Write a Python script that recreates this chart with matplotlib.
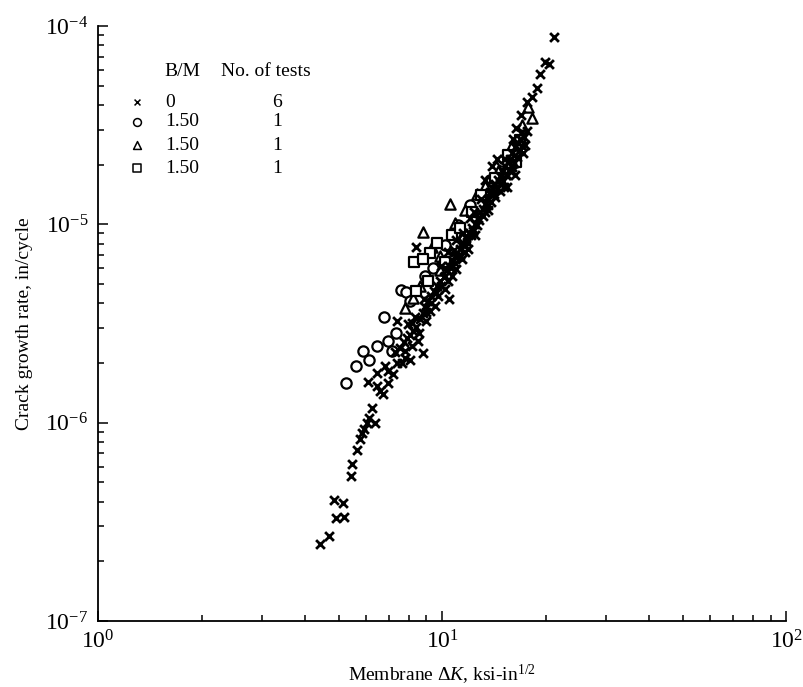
import matplotlib
matplotlib.use("Agg")
import matplotlib.pyplot as plt
from matplotlib.ticker import LogLocator, NullFormatter

plt.rcParams['font.family'] = 'Liberation Serif'
plt.rcParams['mathtext.fontset'] = 'custom'
plt.rcParams['mathtext.rm'] = 'Liberation Serif'
plt.rcParams['mathtext.it'] = 'Liberation Serif:italic'

# B/M = 0 (6 tests)
dk_x = [4.42, 4.69, 4.92, 5.19, 4.85, 5.15, 5.45, 5.48, 5.67, 5.78, 5.86, 5.93,
        6.05, 6.14, 6.26, 6.39, 6.10, 6.45, 6.61, 6.74, 6.97, 6.45, 6.83, 6.97,
        7.20, 7.40, 7.65, 7.81, 8.07, 7.40, 7.97, 8.78,
        7.30, 7.55, 7.76, 7.92, 8.07, 8.24, 8.41, 8.52, 8.18, 7.81, 8.63, 8.78,
        8.93, 8.35, 8.18, 8.57, 8.99, 9.10, 9.29, 8.87, 9.48, 9.68, 9.23, 9.55,
        10.45, 9.87, 10.1, 9.74, 10.2, 10.3, 10.5, 10.7, 9.94, 10.9, 10.7, 11.0,
        10.4, 11.28, 11.5, 11.0, 11.75, 12.0, 11.4, 11.67, 12.2, 12.47, 11.9,
        12.06, 12.7, 12.9, 13.1, 12.47, 13.34, 13.6, 13.79, 13.0, 14.0, 14.26,
        14.55, 14.75, 15.05, 15.25, 15.56, 15.77, 15.45, 16.3, 15.45, 14.75,
        14.2, 13.6, 16.0, 16.3, 16.6, 16.86, 16.1, 16.4, 17.1, 17.44, 16.86,
        16.97, 17.6, 18.27, 18.9, 19.27, 19.9, 20.4, 21.2, 14.4, 15.25, 14.0,
        13.34, 8.4,
        9.0, 9.3, 9.6, 9.9, 10.2, 10.4, 10.6, 10.9, 11.1, 11.3, 11.6, 11.8,
        12.1, 12.3, 12.6, 12.8, 13.1, 13.3, 13.6, 13.9, 14.1, 14.4, 14.7, 15.0,
        15.3, 15.6, 15.9, 16.2, 16.5, 16.7, 17.0, 17.3, 17.6, 17.2, 16.0, 15.1,
        13.8, 12.4, 11.5, 10.8]
dk_y = [2.45e-7, 2.70e-7, 3.30e-7, 3.33e-7, 4.1e-7, 3.95e-7, 5.4e-7, 6.2e-7,
        7.3e-7, 8.3e-7, 8.9e-7, 9.3e-7, 1.0e-6, 1.06e-6, 1.18e-6, 1.0e-6,
        1.61e-6, 1.54e-6, 1.45e-6, 1.40e-6, 1.59e-6, 1.79e-6, 1.94e-6, 1.83e-6,
        1.77e-6, 1.99e-6, 2.01e-6, 2.11e-6, 2.06e-6, 3.27e-6, 3.16e-6, 2.24e-6,
        2.27e-6, 2.37e-6, 2.55e-6, 2.66e-6, 2.78e-6, 2.91e-6, 3.05e-6, 2.59e-6,
        2.45e-6, 2.31e-6, 3.35e-6, 3.59e-6, 3.85e-6, 3.43e-6, 3.2e-6, 2.82e-6,
        3.27e-6, 4.13e-6, 4.37e-6, 4.22e-6, 4.64e-6, 4.91e-6, 3.68e-6, 3.9e-6,
        4.22e-6, 5.21e-6, 5.43e-6, 4.37e-6, 4.74e-6, 5.86e-6, 6.2e-6, 6.58e-6,
        6.2e-6, 6.97e-6, 5.52e-6, 5.99e-6, 7.22e-6, 7.56e-6, 8.02e-6, 8.3e-6,
        8.5e-6, 9.0e-6, 6.73e-6, 7.22e-6, 9.56e-6, 1.01e-5, 7.56e-6, 1.08e-5,
        1.08e-5, 1.15e-5, 1.20e-5, 8.8e-6, 1.27e-5, 1.34e-5, 1.43e-5, 1.34e-5,
        1.52e-5, 1.59e-5, 1.67e-5, 1.75e-5, 1.85e-5, 1.96e-5, 2.06e-5, 2.14e-5,
        1.77e-5, 1.77e-5, 1.54e-5, 1.48e-5, 1.37e-5, 1.18e-5, 2.30e-5, 2.45e-5,
        2.58e-5, 2.70e-5, 2.70e-5, 3.06e-5, 2.92e-5, 2.51e-5, 2.36e-5, 3.55e-5,
        4.13e-5, 4.38e-5, 4.86e-5, 5.73e-5, 6.58e-5, 6.43e-5, 8.8e-5, 2.14e-5,
        2.14e-5, 1.98e-5, 1.67e-5, 7.65e-6,
        3.6e-6, 4.0e-6, 4.5e-6, 4.9e-6, 5.5e-6, 5.2e-6, 6.0e-6, 6.4e-6, 6.9e-6,
        7.0e-6, 7.8e-6, 8.2e-6, 8.8e-6, 9.3e-6, 9.9e-6, 1.05e-5, 1.1e-5,
        1.16e-5, 1.25e-5, 1.30e-5, 1.42e-5, 1.5e-5, 1.6e-5, 1.66e-5, 1.78e-5,
        1.88e-5, 1.95e-5, 2.05e-5, 2.2e-5, 2.35e-5, 2.5e-5, 2.75e-5, 2.95e-5,
        2.3e-5, 1.85e-5, 1.55e-5, 1.45e-5, 1.15e-5, 9.0e-6, 7.4e-6]

# B/M = 1.50, circles
circ_x = [5.26, 5.62, 5.90, 6.14, 6.45, 7.14, 7.36, 6.78, 7.60, 7.86, 8.93,
          9.42, 6.97, 8.07, 10.2, 11.1, 12.06, 13.79, 14.95]
circ_y = [1.59e-6, 1.94e-6, 2.31e-6, 2.06e-6, 2.45e-6, 2.29e-6, 2.85e-6,
          3.43e-6, 4.69e-6, 4.58e-6, 5.52e-6, 6.06e-6, 2.59e-6, 4.13e-6,
          7.83e-6, 9.89e-6, 1.25e-5, 1.67e-5, 2.10e-5]

# B/M = 1.50, triangles
tri_x = [8.78, 10.55, 7.81, 8.24, 9.36, 9.87, 12.6, 17.8, 18.27, 8.63, 10.91,
         11.67, 13.34, 14.55, 16.0, 17.1, 9.87]
tri_y = [9.2e-6, 1.27e-5, 3.81e-6, 4.27e-6, 7.65e-6, 6.97e-6, 1.43e-5, 3.90e-5,
         3.43e-5, 4.91e-6, 1.02e-5, 1.18e-5, 1.57e-5, 1.87e-5, 2.51e-5, 3.16e-5,
         5.86e-6]

# B/M = 1.50, squares
sq_x = [8.3, 9.23, 9.68, 10.7, 8.78, 8.41, 16.4, 11.28, 12.2, 13.0, 14.26,
        15.56, 16.86, 10.2, 9.1, 11.67]
sq_y = [6.5e-6, 7.14e-6, 8.02e-6, 8.8e-6, 6.73e-6, 4.64e-6, 2.06e-5, 9.56e-6,
        1.15e-5, 1.40e-5, 1.71e-5, 2.23e-5, 2.66e-5, 6.43e-6, 5.21e-6, 8.3e-6]

bm_labels = ['0', '1.50', '1.50', '1.50']
n_tests = ['6', '1', '1', '1']
markers = ['x', 'o', '^', 's']

fig = plt.figure(figsize=(8.04, 6.87), dpi=100)
ax = fig.add_axes([0.122, 0.096, 0.856, 0.866])

ax.scatter(circ_x, circ_y, marker='o', s=55, facecolors='white',
           edgecolors='black', linewidths=1.6, zorder=3)
ax.scatter(tri_x, tri_y, marker='^', s=55, facecolors='white',
           edgecolors='black', linewidths=1.6, zorder=3)
ax.scatter(sq_x, sq_y, marker='s', s=45, facecolors='white',
           edgecolors='black', linewidths=1.6, zorder=3)
ax.scatter(dk_x, dk_y, marker='x', s=40, color='black', linewidths=2.0,
           zorder=4)

ax.set_xscale('log')
ax.set_yscale('log')
ax.set_xlim(1, 100)
ax.set_ylim(1e-7, 1e-4)

ax.spines['top'].set_visible(False)
ax.spines['right'].set_visible(False)
for sp in ('left', 'bottom'):
    ax.spines[sp].set_linewidth(1.3)

ax.xaxis.set_major_locator(LogLocator(base=10, numticks=5))
ax.yaxis.set_major_locator(LogLocator(base=10, numticks=6))
ax.xaxis.set_minor_locator(LogLocator(base=10, subs=range(2, 10), numticks=20))
ax.yaxis.set_minor_locator(LogLocator(base=10, subs=range(2, 10), numticks=20))
ax.xaxis.set_minor_formatter(NullFormatter())
ax.yaxis.set_minor_formatter(NullFormatter())
ax.tick_params(which='both', direction='in', top=False, right=False,
               width=1.1, labelsize=17)
ax.tick_params(which='major', length=7, pad=7)
ax.tick_params(which='minor', length=4.5)

ax.set_xlabel(r'Membrane $\Delta K$, ksi-in$^{1/2}$', fontsize=14)
ax.set_ylabel('Crack growth rate, in/cycle', fontsize=14)
ax.yaxis.set_label_coords(-0.095, 0.5)
ax.xaxis.set_label_coords(0.5, -0.07)

# legend table
ax.text(0.097, 0.923, 'B/M', transform=ax.transAxes, fontsize=14,
        va='center', ha='left')
ax.text(0.178, 0.923, 'No. of tests', transform=ax.transAxes, fontsize=14,
        va='center', ha='left')
row_y = [0.872, 0.839, 0.800, 0.761]
for m, lab, n, yy in zip(markers, bm_labels, n_tests, row_y):
    if m == 'x':
        ax.scatter([0.057], [yy], marker='x', s=18, color='black',
                   linewidths=1.1, transform=ax.transAxes, clip_on=False)
    else:
        ax.scatter([0.057], [yy], marker=m, s=32, facecolors='white',
                   edgecolors='black', linewidths=1.1,
                   transform=ax.transAxes, clip_on=False)
    ax.text(0.097, yy, lab, transform=ax.transAxes, fontsize=14,
            va='center', ha='left')
    ax.text(0.26, yy, n, transform=ax.transAxes, fontsize=14,
            va='center', ha='center')

fig.savefig('out.png', dpi=100)
